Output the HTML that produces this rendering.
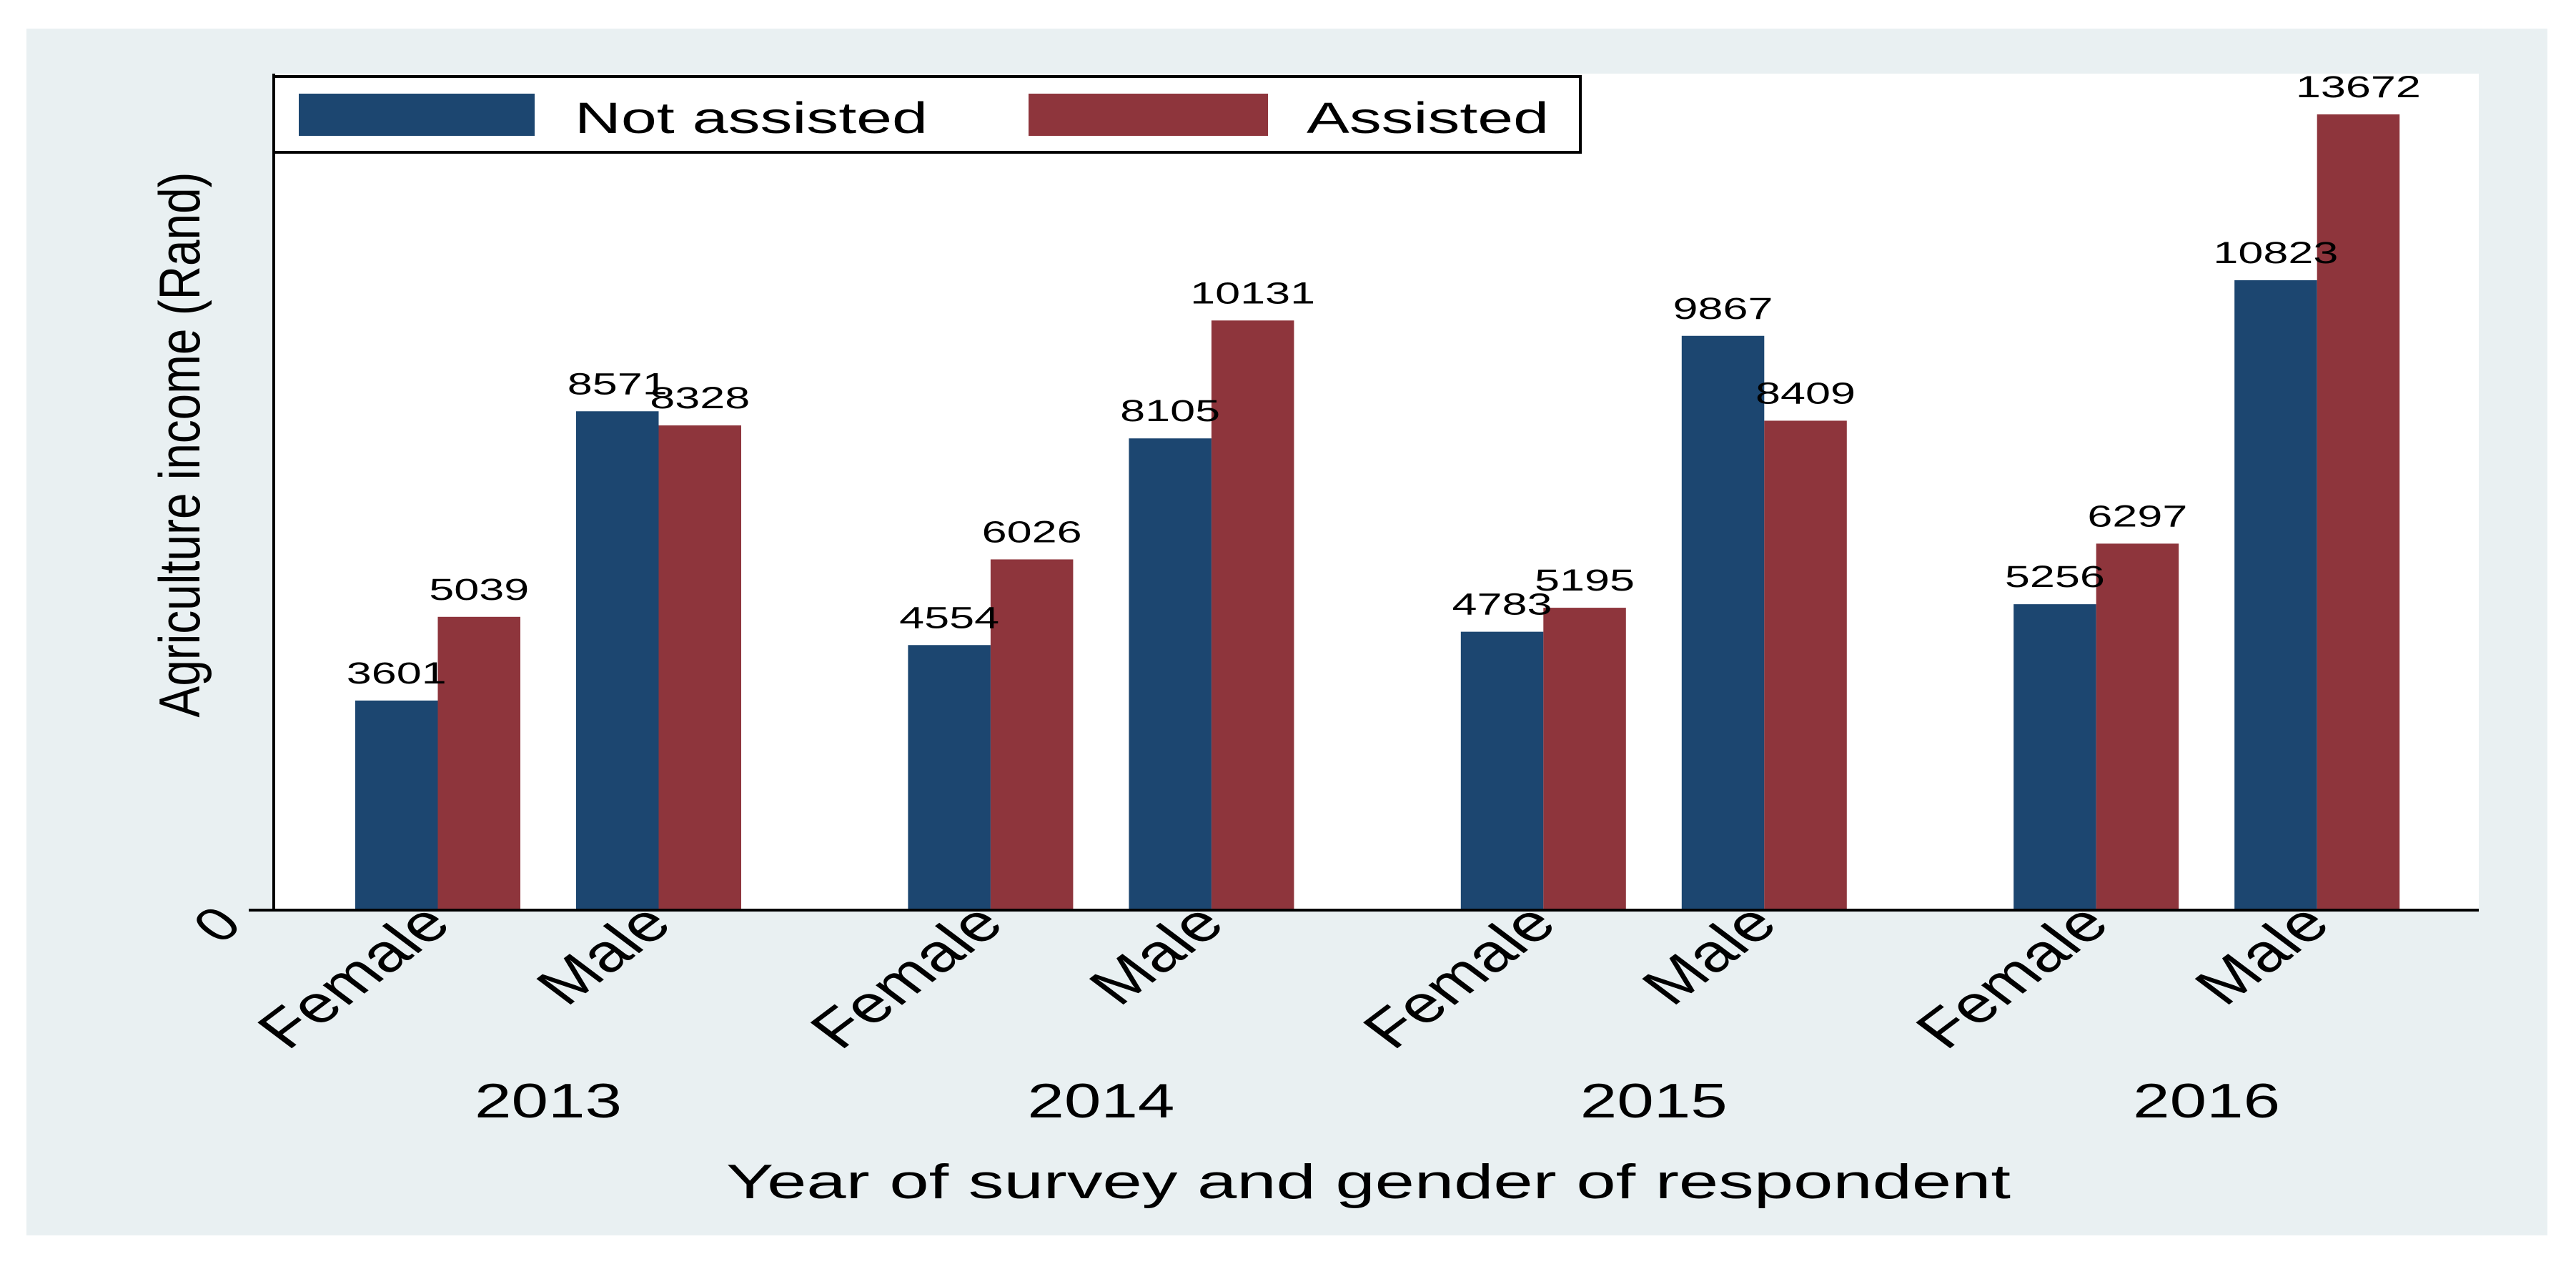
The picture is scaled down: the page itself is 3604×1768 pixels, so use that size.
<!DOCTYPE html>
<html><head><meta charset="utf-8"><style>
html,body{margin:0;padding:0;background:#fff;}
svg{display:block;font-family:"Liberation Sans",Arial,sans-serif;}
</style></head><body>
<svg id="chart" width="3604" height="1768" viewBox="0 0 3604 1768" xmlns="http://www.w3.org/2000/svg">
<rect x="37" y="40" width="3527" height="1688" fill="#e9f0f2"/>
<rect x="383" y="103" width="3085" height="1170" fill="#ffffff"/>
<g id="bars"></g>
<g id="labels"></g>
<line x1="383" y1="103" x2="383" y2="1275" stroke="#000" stroke-width="4"/>
<line x1="348" y1="1273" x2="3468" y2="1273" stroke="#000" stroke-width="4"/>
<text transform="translate(342,1296) scale(1.33,1) rotate(-45)" text-anchor="end" font-size="66">0</text>
<g id="xcats"></g>
<text transform="translate(279,622) scale(1.33,1) rotate(-90)" text-anchor="middle" font-size="61" textLength="763" lengthAdjust="spacingAndGlyphs">Agriculture income (Rand)</text>
<text x="1016" y="1676" font-size="68" textLength="1797" lengthAdjust="spacingAndGlyphs">Year of survey and gender of respondent</text>
<g>
<rect x="383" y="107" width="1828" height="106" fill="#fff" stroke="#000" stroke-width="4"/>
<rect x="418" y="131" width="330" height="59" fill="#1c4670"/>
<text x="804" y="186" font-size="61" textLength="494" lengthAdjust="spacingAndGlyphs">Not assisted</text>
<rect x="1439" y="131" width="335" height="59" fill="#8e353c"/>
<text x="1828" y="186" font-size="61" textLength="339" lengthAdjust="spacingAndGlyphs">Assisted</text>
</g>
</svg>
<script>
const years = ["2013","2014","2015","2016"];
const genders = ["Female","Male"];
const femaleNotAssisted = [3601,4554,4783,5256];
const femaleAssisted = [5039,6026,5195,6297];
const maleNotAssisted = [8571,8105,9867,10823];
const maleAssisted = [8328,10131,8409,13672];

const NS = "http://www.w3.org/2000/svg";
const y0 = 1273, pxPerUnit = (1273-160)/13672;
function yScale(v){ return y0 - v*pxPerUnit; }
const groupStart = 497, groupStep = 773.4, genderOffset = 309, barW = 115.5;
function xScale(yearIdx, genderIdx, seriesIdx){ return groupStart + yearIdx*groupStep + genderIdx*genderOffset + seriesIdx*barW; }
const colors = ["#1c4670","#8e353c"];
const barsG = document.getElementById('bars');
const labG = document.getElementById('labels');
const catG = document.getElementById('xcats');
const seriesByGender = [[femaleNotAssisted, femaleAssisted],[maleNotAssisted, maleAssisted]];
const seriesNames = ["not-assisted","assisted"];

years.forEach((yr, yi) => {
  genders.forEach((g, gi) => {
    seriesByGender[gi].forEach((arr, si) => {
      const v = arr[yi];
      const x = xScale(yi, gi, si);
      const top = yScale(v);
      const r = document.createElementNS(NS,'rect');
      r.setAttribute('x', x); r.setAttribute('y', top);
      r.setAttribute('width', barW); r.setAttribute('height', y0 - top);
      r.setAttribute('fill', colors[si]);
      
      
      barsG.appendChild(r);
      const t = document.createElementNS(NS,'text');
      const s = String(v);
      t.setAttribute('x', x + barW/2 - s.length*17.5);
      t.setAttribute('y', top - 24);
      t.setAttribute('font-size', '43');
      t.setAttribute('textLength', s.length*35);
      t.setAttribute('lengthAdjust', 'spacingAndGlyphs');
      t.textContent = s;
      
      
      labG.appendChild(t);
    });
    const cx = xScale(yi, gi, 1) + 22;
    const c = document.createElementNS(NS,'text');
    c.setAttribute('transform', 'translate(' + cx + ',1296) scale(1.33,1) rotate(-45)');
    c.setAttribute('text-anchor', 'end');
    c.setAttribute('font-size', '74');
    c.textContent = g;
    
    
    catG.appendChild(c);
  });
  const yc = (xScale(yi,0,0) + xScale(yi,1,1) + barW) / 2;
  const yt = document.createElementNS(NS,'text');
  yt.setAttribute('x', yc - 103); yt.setAttribute('y', 1563);
  yt.setAttribute('font-size', '68');
  yt.setAttribute('textLength', '206');
  yt.setAttribute('lengthAdjust', 'spacingAndGlyphs');
  yt.textContent = yr;
  
  
  catG.appendChild(yt);
});
</script>
</body></html>
